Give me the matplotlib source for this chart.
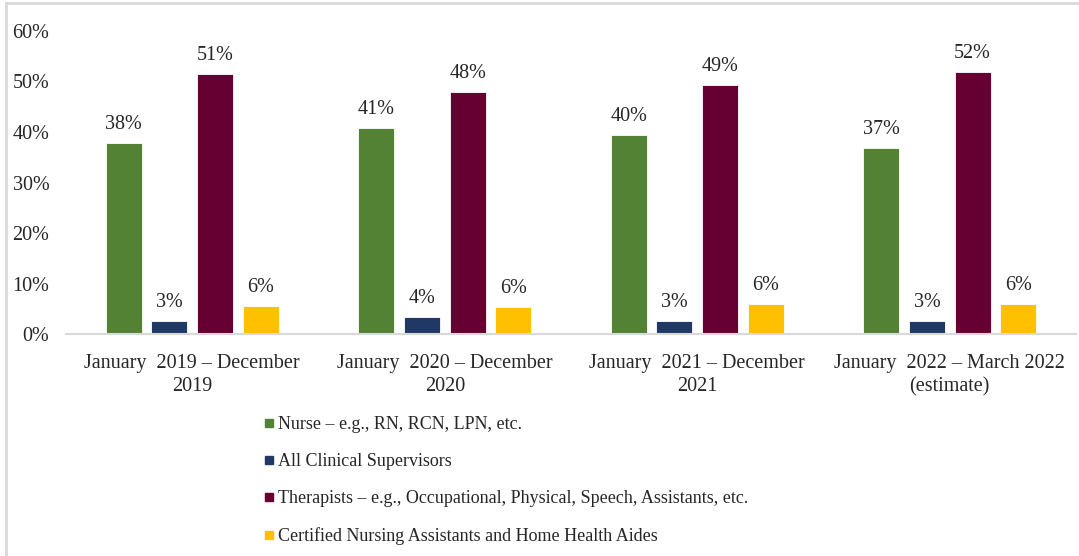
import matplotlib.pyplot as plt
import matplotlib.lines as mlines
import numpy as np

# data
periods = ["January  2019 – December\n2019",
           "January  2020 – December\n2020",
           "January  2021 – December\n2021",
           "January  2022 – March 2022\n(estimate)"]
series_names = ["Nurse – e.g., RN, RCN, LPN, etc.",
                "All Clinical Supervisors",
                "Therapists – e.g., Occupational, Physical, Speech, Assistants, etc.",
                "Certified Nursing Assistants and Home Health Aides"]
nurse = [0.377, 0.408, 0.394, 0.368]
supervisors = [0.027, 0.034, 0.027, 0.027]
therapists = [0.514, 0.478, 0.493, 0.518]
cna = [0.056, 0.054, 0.060, 0.060]
labels_pct = [[38, 41, 40, 37], [3, 4, 3, 3], [51, 48, 49, 52], [6, 6, 6, 6]]
colors = ["#548235", "#203864", "#660033", "#ffc000"]

plt.rcParams['font.family'] = ['Liberation Serif', 'DejaVu Serif']

fig = plt.figure(figsize=(10.79, 5.56), dpi=100)
ax = fig.add_axes([0.0612, 0.3984, 0.936, 0.5467])

x = np.arange(len(periods))
step = 0.181
width = 0.143
all_series = [nurse, supervisors, therapists, cna]
for i, vals in enumerate(all_series):
    pos = x + (i - 1.5) * step
    bars = ax.bar(pos, vals, width, color=colors[i], label=series_names[i],
                  edgecolor="white", linewidth=0.6, zorder=2)
    for b, lab in zip(bars, labels_pct[i]):
        ax.text(b.get_x() + b.get_width() / 2, b.get_height() + 0.018,
                str(lab) + "%", ha="center", va="bottom", fontsize=14.5,
                color="#262626")

ax.set_xlim(-0.5, 3.5)
ax.set_ylim(0, 0.6)
ax.set_yticks([0, 0.1, 0.2, 0.3, 0.4, 0.5, 0.6])
ax.set_yticklabels([f"{int(round(t*100))}%" for t in ax.get_yticks()])
ax.set_xticks(x)
ax.set_xticklabels(periods, fontsize=14.5, color="#262626", linespacing=1.3)
ax.tick_params(axis="y", length=0, labelsize=14.5, labelcolor="#262626", pad=12)
ax.tick_params(axis="x", length=0, pad=14)
for s in ["top", "right", "left"]:
    ax.spines[s].set_visible(False)
ax.spines["bottom"].set_color("#d9d9d9")
ax.spines["bottom"].set_linewidth(1.5)

handles = [mlines.Line2D([], [], marker="s", linestyle="none", markersize=6,
                         markerfacecolor=c, markeredgecolor=c) for c in colors]
fig.legend(handles, series_names, loc="upper left",
           bbox_to_anchor=(0.238, 0.264), frameon=False, fontsize=13,
           handlelength=0.5, handletextpad=0.25, labelspacing=1.1,
           borderaxespad=0, labelcolor="#262626")

# light border at top and left like the original slide
fig.add_artist(mlines.Line2D([0.006, 1.0], [0.994, 0.994], color="#d9d9d9",
                             linewidth=2, transform=fig.transFigure))
fig.add_artist(mlines.Line2D([0.006, 0.006], [0.0, 0.994], color="#d9d9d9",
                             linewidth=2, transform=fig.transFigure))

fig.savefig("out.png", dpi=100)
